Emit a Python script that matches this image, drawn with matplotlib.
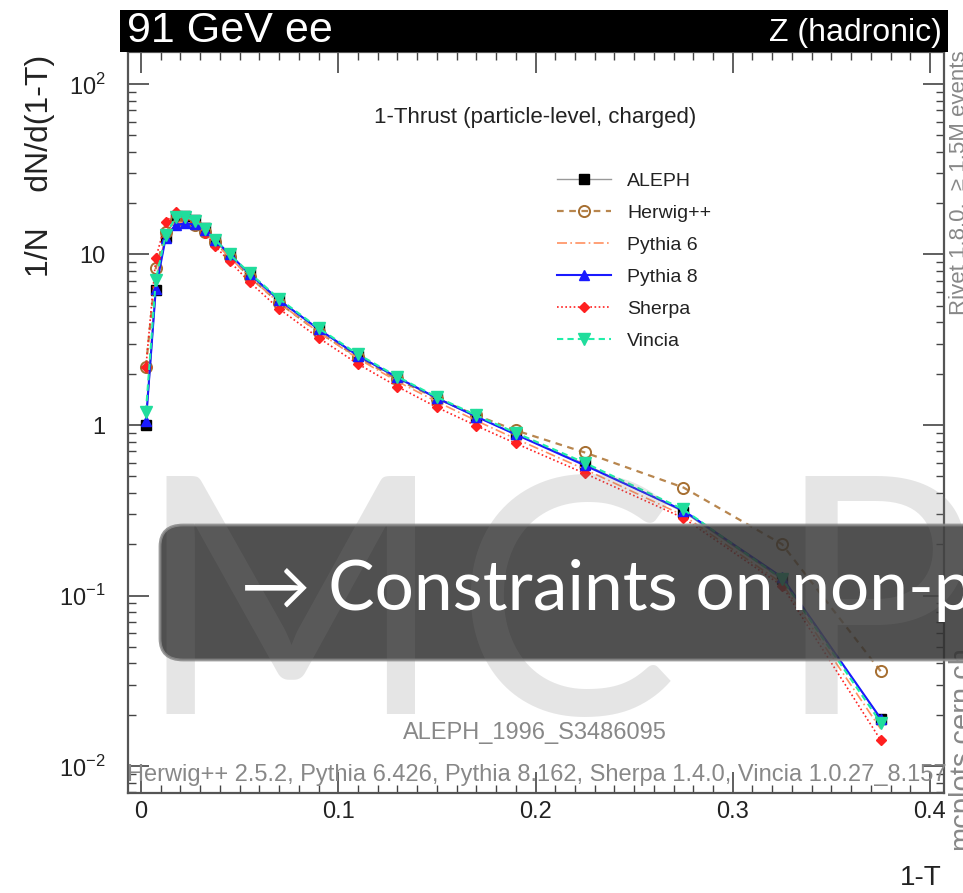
import numpy as np
import matplotlib.pyplot as plt
from matplotlib.patches import FancyBboxPatch, Rectangle

# 1-Thrust bin centres and values
x = [0.0025, 0.0075, 0.0125, 0.0175, 0.0225, 0.0275, 0.0325, 0.0375, 0.045, 0.055,
     0.07, 0.09, 0.11, 0.13, 0.15, 0.17, 0.19, 0.225, 0.275, 0.325, 0.375]
aleph = [1.0, 6.2, 12.7, 16.5, 16.8, 16.0, 14.3, 12.2, 10.0, 7.7,
         5.4, 3.65, 2.55, 1.88, 1.43, 1.12, 0.88, 0.59, 0.31, 0.125, 0.019]
herwig = [2.2, 8.3, 13.5, 16.0, 15.5, 14.8, 13.5, 11.8, 9.7, 7.4,
          5.2, 3.5, 2.5, 1.85, 1.43, 1.14, 0.93, 0.69, 0.43, 0.2, 0.036]
pythia6 = [1.1, 7.0, 13.0, 15.5, 15.3, 14.8, 13.5, 11.7, 9.6, 7.4,
           5.2, 3.5, 2.45, 1.8, 1.37, 1.06, 0.83, 0.55, 0.295, 0.118, 0.0165]
pythia8 = [1.05, 6.3, 12.5, 14.9, 15.2, 15.0, 14.0, 12.2, 10.0, 7.7,
           5.4, 3.65, 2.55, 1.9, 1.44, 1.12, 0.88, 0.58, 0.315, 0.128, 0.019]
sherpa = [2.2, 9.5, 15.5, 17.7, 16.5, 15.2, 13.3, 11.2, 9.1, 6.9,
          4.8, 3.25, 2.28, 1.68, 1.27, 0.99, 0.78, 0.52, 0.285, 0.114, 0.0142]
vincia = [1.2, 7.1, 13.0, 16.5, 16.6, 15.8, 14.2, 12.2, 10.0, 7.8,
          5.5, 3.7, 2.6, 1.92, 1.46, 1.14, 0.9, 0.6, 0.32, 0.125, 0.018]

xticks = [0, 0.1, 0.2, 0.3, 0.4]
xticklabels = ["0", "0.1", "0.2", "0.3", "0.4"]
yticks = [1e-2, 1e-1, 1, 10, 100]
yticklabels = ["$10^{-2}$", "$10^{-1}$", "1", "10", "$10^{2}$"]

plt.rcParams['font.family'] = ['Liberation Sans', 'DejaVu Sans']
plt.rcParams['mathtext.fontset'] = 'custom'
plt.rcParams['mathtext.rm'] = 'Liberation Sans'

W, H = 963, 893
fig = plt.figure(figsize=(W/100, H/100), dpi=100)

def fx(px):
    return px / W

def fy(py):
    return 1 - py / H

ax = fig.add_axes([fx(128), fy(793), fx(944) - fx(128), fy(52) - fy(793)])
ax.set_yscale('log')
ax.set_xlim(-0.0066, 0.4071)
ax.set_ylim(0.00695, 154)

ax.plot(x, aleph, color='#999999', lw=1, marker='s', ms=7, mfc='black', mec='black', zorder=2, label='ALEPH')
ax.plot(x, herwig, color='#b8864e', lw=1.6, ls=(0, (3, 2.5)), marker='o', ms=8, mfc='none', mec='#a66e30',
        mew=1.4, zorder=3, label='Herwig++')
ax.plot(x, pythia6, color='#ff9060', lw=1.2, ls=(0, (6, 2, 1, 2)), zorder=3, label='Pythia 6')
ax.plot(x, pythia8, color='#1a1aff', lw=1.5, marker='^', ms=7, mfc='#1a1aff', mec='#1a1aff', zorder=4, label='Pythia 8')
ax.plot(x, sherpa, color='#ff2020', lw=1.2, ls=(0, (1, 1.5)), marker='D', ms=5.5, mfc='#ff2020', mec='#ff2020',
        zorder=3.5, label='Sherpa')
ax.plot(x, vincia, color='#20eea8', lw=1.5, ls=(0, (3, 2)), marker='v', ms=8, mfc='#20dd9c', mec='#20dd9c',
        zorder=5, label='Vincia')

ax.set_xticks(xticks)
ax.set_xticklabels(xticklabels)
ax.set_xticks(np.arange(0, 0.41, 0.01), minor=True)
ax.set_yticks(yticks)
ax.set_yticklabels(yticklabels)
ax.tick_params(axis='both', which='both', direction='in', top=True, right=True, colors='#444444',
               labelcolor='#222222', labelsize=17)
ax.tick_params(which='major', length=15, width=1.2)
ax.tick_params(which='minor', length=6, width=1.0)
ax.tick_params(axis='x', pad=6)
ax.tick_params(axis='y', pad=16)
for s in ax.spines.values():
    s.set_color('#555555')
    s.set_linewidth(1.6)

leg = ax.legend(loc='upper left', bbox_to_anchor=(fx(557), fy(172)), bbox_transform=fig.transFigure,
                frameon=False, fontsize=14, handlelength=2.8, handletextpad=0.8, labelspacing=0.74,
                borderaxespad=0, borderpad=0)
for t in leg.get_texts():
    t.set_color('#222222')

fig.text(fx(535), fy(118), "1-Thrust (particle-level, charged)", fontsize=16, ha='center', va='center', color='#222222')
fig.text(fx(535), fy(733), "ALEPH_1996_S3486095", fontsize=17, ha='center', va='center', color='#888888')
fig.text(fx(537), fy(775), "Herwig++ 2.5.2, Pythia 6.426, Pythia 8.162, Sherpa 1.4.0, Vincia 1.0.27_8.157",
         fontsize=17, ha='center', va='center', color='#888888')

fig.text(fx(40), fy(55), "1/N    dN/d(1-T)", fontsize=23, rotation=90, ha='center', va='top', color='#222222')
fig.text(fx(942), fy(878), "1-T", fontsize=20, ha='right', va='center', color='#222222')

# title band
fig.add_artist(Rectangle((fx(120), fy(52)), fx(948) - fx(120), fy(10) - fy(52), transform=fig.transFigure,
                         facecolor='black', edgecolor='none'))
fig.text(fx(127), fy(31), "91 GeV ee", fontsize=31, color='white', ha='left', va='center')
fig.text(fx(942), fy(33), "Z (hadronic)", fontsize=23, color='white', ha='right', va='center')

# side labels
fig.text(fx(959), fy(50), "Rivet 1.8.0,  \u2265 1.5M events", fontsize=16, rotation=90, ha='center', va='top',
         color='#888888')
fig.text(fx(961), fy(850), "mcplots.cern.ch", fontsize=21, rotation=90, ha='center', va='bottom', color='#888888')

# slide overlay box
fig.add_artist(FancyBboxPatch((fx(160), fy(660)), fx(1000) - fx(160), fy(525) - fy(660),
                              boxstyle="round,pad=0,rounding_size=0.024", transform=fig.transFigure,
                              facecolor=(0.2, 0.2, 0.2), alpha=0.86, edgecolor='#8a8a8a', lw=2, zorder=10))

# watermark letters
for letter, px in [("M", 290), ("C", 565), ("P", 875)]:
    fig.text(fx(px), fy(620), letter, fontsize=240, family=['Lato', 'DejaVu Sans'], ha='center', va='center',
             color='#808080', alpha=0.2, zorder=11)

fig.text(fx(241), fy(590), "\u2192 Constraints on non-perturbative effects", fontsize=50,
         family=['Lato', 'DejaVu Sans'], color='white', ha='left', va='center', zorder=12)

fig.savefig("out.png", dpi=100)
